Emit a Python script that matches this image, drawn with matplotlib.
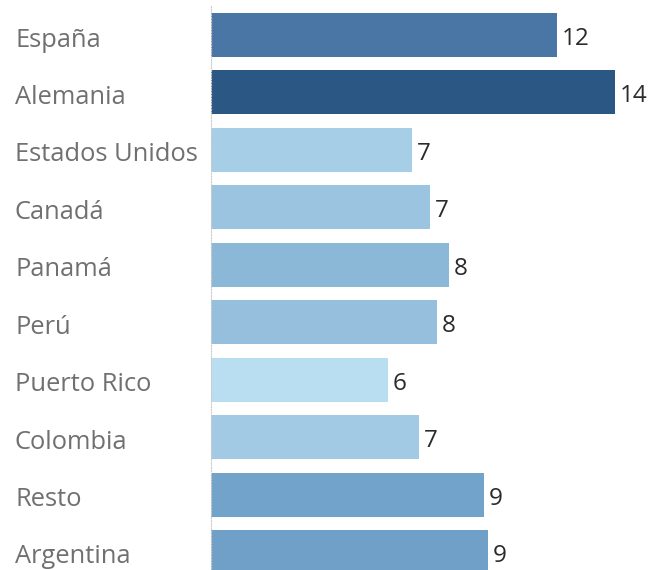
import matplotlib
matplotlib.use("Agg")
import matplotlib.pyplot as plt
import matplotlib.transforms as mtransforms
from matplotlib.colors import LinearSegmentedColormap, Normalize

paises = ["España", "Alemania", "Estados Unidos", "Canadá", "Panamá",
          "Perú", "Puerto Rico", "Colombia", "Resto", "Argentina"]
valores = [11.69, 13.65, 6.79, 7.40, 8.04, 7.64, 5.98, 7.03, 9.22, 9.36]

plt.rcParams['font.family'] = ['Open Sans', 'DejaVu Sans']

# tableau-like blue ramp
cmap = LinearSegmentedColormap.from_list(
    "azules", [(0, '#b9ddf1'), (0.42, '#72a3ca'), (0.745, '#4a76a6'), (1, '#2a5783')])
norm = Normalize(min(valores), max(valores))

fig = plt.figure(figsize=(6.65, 5.70), dpi=100)
ax = fig.add_axes([211 / 665, 1 - 580.7 / 570, 1 - 211 / 665, (580.7 - 6.3) / 570])

y = list(range(len(paises)))
ax.barh(y, valores, height=0.766, color=[cmap(norm(v)) for v in valores])
ax.set_ylim(len(paises) - 0.5, -0.5)
ax.set_xlim(0, (665 - 211) / 29.6)

for yi, v in zip(y, valores):
    ax.annotate(f"{v:.0f}", (v, yi), xytext=(3.5, -7.2), textcoords='offset points',
                va='baseline', ha='left', fontsize=17.5, color='#2b2b2b')

trans = mtransforms.blended_transform_factory(fig.transFigure, ax.transData)
for yi, p in zip(y, paises):
    ax.text(15 / 665, yi + 0.2, p, transform=trans, ha='left', va='baseline',
            fontsize=18.4, color='#707070')

for s in ['top', 'right', 'bottom']:
    ax.spines[s].set_visible(False)
ax.spines['left'].set_linestyle((0, (1, 1.5)))
ax.spines['left'].set_color('#cccccc')
ax.spines['left'].set_linewidth(0.8)
ax.set_xticks([])
ax.set_yticks([])

fig.savefig("out.png", dpi=100)
